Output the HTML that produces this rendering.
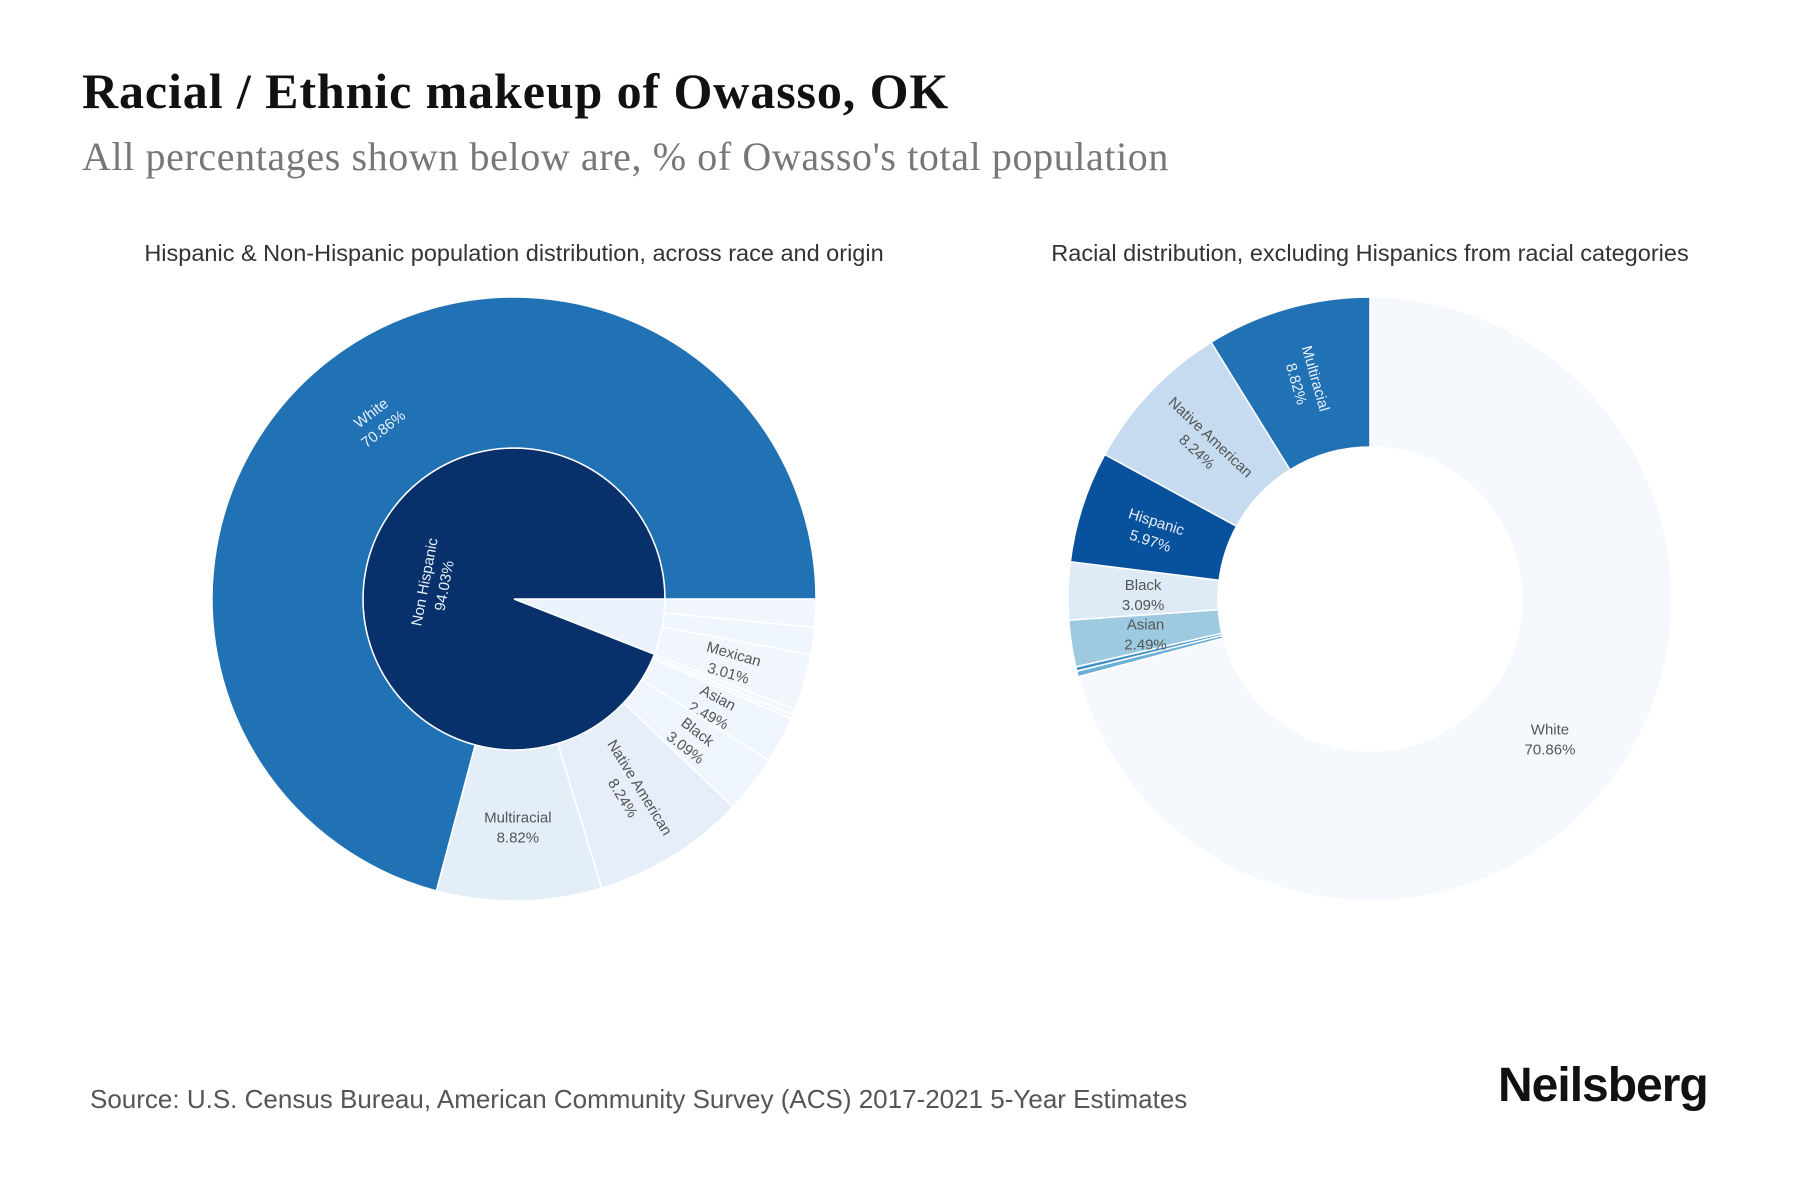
<!DOCTYPE html>
<html><head><meta charset="utf-8">
<style>
body{margin:0;background:#fff;width:1800px;height:1200px;overflow:hidden;font-family:"Liberation Sans",sans-serif}
#title{position:absolute;left:82px;top:62px;font:bold 50px "Liberation Serif",serif;color:#111;letter-spacing:0.9px}
#sub{position:absolute;left:82px;top:133px;font:40px "Liberation Serif",serif;color:#777;letter-spacing:0.6px}
#src{position:absolute;left:90px;top:1084px;font:26px "Liberation Sans",sans-serif;color:#555}
#logo{position:absolute;left:1498px;top:1058px;font:bold 48px "Liberation Sans",sans-serif;color:#111;letter-spacing:-1px}
</style></head><body>
<div id="title">Racial / Ethnic makeup of Owasso, OK</div>
<div id="sub">All percentages shown below are, % of Owasso's total population</div>
<svg id="svg" width="1800" height="1200" style="position:absolute;left:0;top:0">
<text x="514" y="261" text-anchor="middle" font-size="23.5" fill="#333">Hispanic &amp; Non-Hispanic population distribution, across race and origin</text>
<text x="1370" y="261" text-anchor="middle" font-size="23.5" fill="#333">Racial distribution, excluding Hispanics from racial categories</text>
</svg>
<div id="src">Source: U.S. Census Bureau, American Community Survey (ACS) 2017-2021 5-Year Estimates</div>
<div id="logo">Neilsberg</div>
<script>
// Left sunburst inner ring
const innerLabels=["Hispanic","Non Hispanic"];
const innerValues=[5.97,94.03];
const innerColors=["#eaf3fb","#08306b"];
const innerShow=[false,true];
// Left outer ring (clockwise from 3 o'clock)
const outerLabels=["Other Hispanic","Puerto Rican","Mexican","Other","Pacific Islander","Asian","Black","Native American","Multiracial","White"];
const outerValues=[1.5,1.46,3.01,0.3,0.23,2.49,3.09,8.24,8.82,70.86];
const outerColors=["#f0f6fc","#eef5fc","#f0f6fc","#f2f7fd","#f2f7fd","#eef5fc","#eef5fc","#e6eff9","#e3eef9","#2171b5"];
const outerShow=[false,false,true,false,false,true,true,true,true,true];
const outerOrient=["r","r","r","r","r","r","r","r","h","t"];
// Right donut (clockwise from 12 o'clock)
const donutLabels=["White","Other","Pacific Islander","Asian","Black","Hispanic","Native American","Multiracial"];
const donutValues=[70.86,0.3,0.23,2.49,3.09,5.97,8.24,8.82];
const donutColors=["#f5f9fe","#6baed6","#4292c6","#9ecae1","#deebf7","#08519c","#c6dbef","#2171b5"];
const donutShow=[true,false,false,true,true,true,true,true];
const donutOrient=["h","r","r","h","h","r","r","r"];

const svg=document.getElementById('svg');
const NS="http://www.w3.org/2000/svg";
const rad=d=>d*Math.PI/180;
function pt(cx,cy,r,a){return [cx+r*Math.cos(rad(a)),cy+r*Math.sin(rad(a))];}
function arcPath(cx,cy,r0,r1,a0,a1){
  const large=(a1-a0)>180?1:0;
  const p1=pt(cx,cy,r1,a0),p2=pt(cx,cy,r1,a1);
  if(r0<=0)return `M${cx},${cy}L${p1[0]},${p1[1]}A${r1},${r1} 0 ${large} 1 ${p2[0]},${p2[1]}Z`;
  const p3=pt(cx,cy,r0,a1),p4=pt(cx,cy,r0,a0);
  return `M${p1[0]},${p1[1]}A${r1},${r1} 0 ${large} 1 ${p2[0]},${p2[1]}L${p3[0]},${p3[1]}A${r0},${r0} 0 ${large} 0 ${p4[0]},${p4[1]}Z`;
}
function norm(r){while(r>90)r-=180;while(r<=-90)r+=180;return r;}
function ring(prefix,cx,cy,r0,r1,start,labels,values,colors,show,orient,total){
  let a=start;
  labels.forEach((lab,i)=>{
    const sweep=values[i]/total*360;
    const a0=a,a1=a+sweep;a=a1;
    const p=document.createElementNS(NS,'path');
    p.setAttribute('d',arcPath(cx,cy,r0,r1,a0,a1));
    p.setAttribute('fill',colors[i]);
    p.setAttribute('stroke','#fff');p.setAttribute('stroke-width','1.5');
    
    
    svg.appendChild(p);
    if(!show[i])return;
    const mid=(a0+a1)/2;const rm=r0>0?(r0+r1)/2:r1*0.55;
    const q=pt(cx,cy,rm,mid);
    let rot=0;const o=orient[i];
    if(o==='r')rot=norm(mid);else if(o==='t')rot=norm(mid-90);
    const dark=['#08306b','#2171b5','#08519c'].includes(colors[i]);
    const t=document.createElementNS(NS,'text');
    t.setAttribute('transform',`translate(${q[0]},${q[1]}) rotate(${rot})`);
    t.setAttribute('text-anchor','middle');t.setAttribute('font-size','15');
    t.setAttribute('fill',dark?'#e8f0fa':'#555');
    
    
    const s1=document.createElementNS(NS,'tspan');s1.setAttribute('x','0');s1.setAttribute('dy','-3');s1.textContent=lab;
    const s2=document.createElementNS(NS,'tspan');s2.setAttribute('x','0');s2.setAttribute('dy','20');s2.textContent=values[i].toFixed(2)+'%';
    t.appendChild(s1);t.appendChild(s2);svg.appendChild(t);
  });
}
ring('inner',514,599,0,151,0,innerLabels,innerValues,innerColors,innerShow,["t","t"],100);
ring('outer',514,599,151,302,0,outerLabels,outerValues,outerColors,outerShow,outerOrient,100);
ring('donut',1370,599,152,302,-90,donutLabels,donutValues,donutColors,donutShow,donutOrient,100);
</script>
</body></html>
